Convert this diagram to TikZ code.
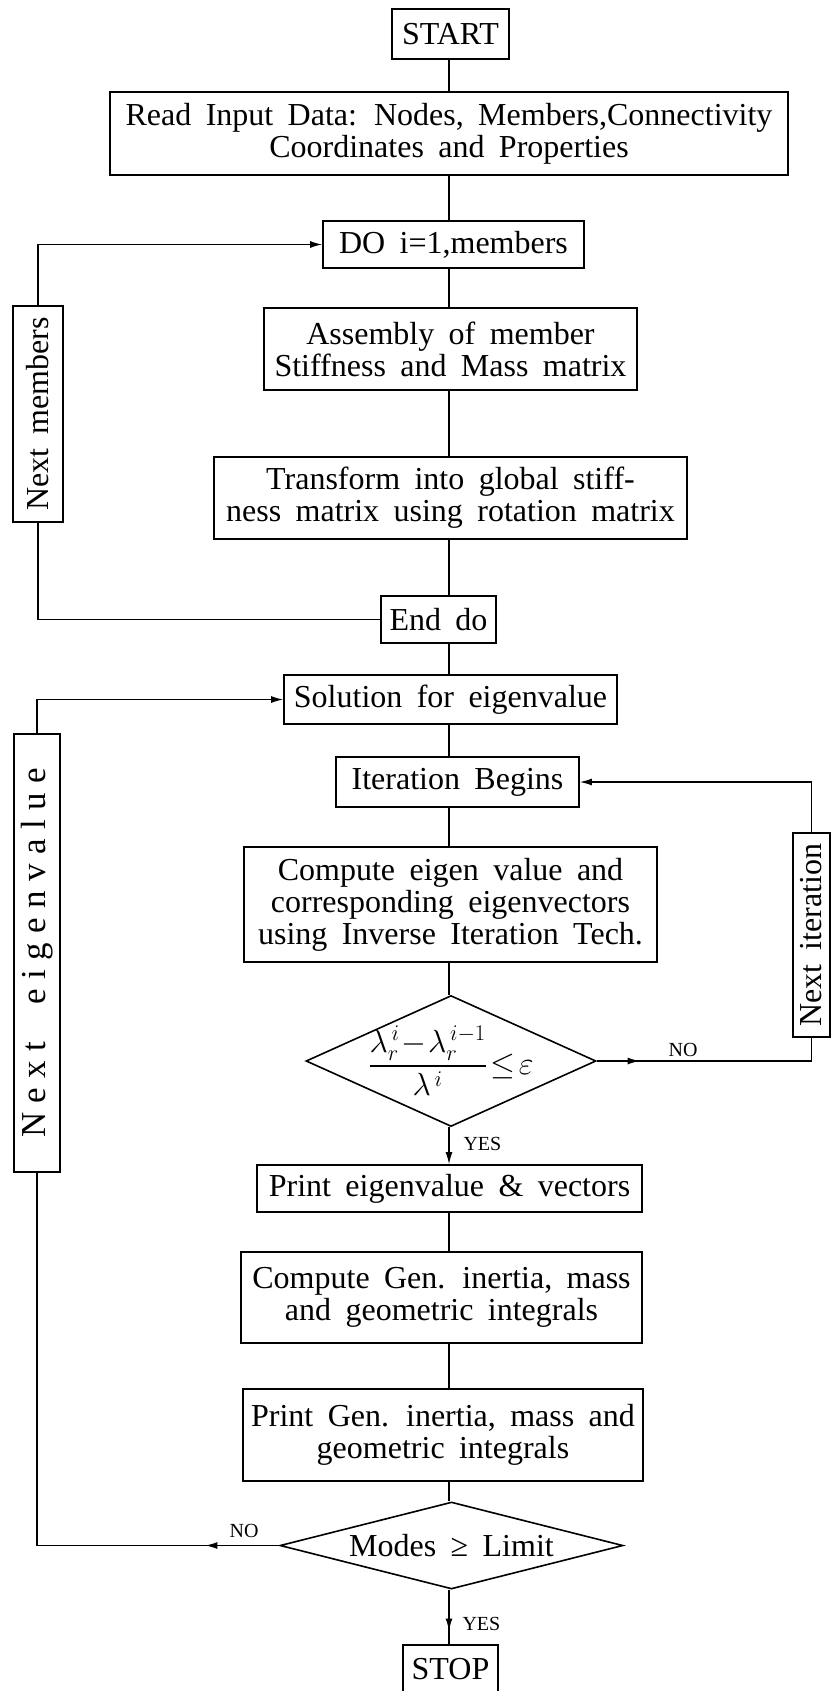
\RequirePackage{fix-cm}
\documentclass[tikz,border=0pt]{standalone}
\usepackage{amsmath, amssymb}
\usepackage{graphicx}
\usepackage{fontspec}
\setmainfont[WordSpace=1.8]{Liberation Serif}
\newfontfamily\spreadfont[LetterSpace=27, WordSpace=2]{Liberation Serif}
\usepackage{tikz}
\usetikzlibrary{shapes.geometric, arrows.meta, decorations.markings}

\tikzset{
  blk/.style={draw, line width=1.8pt, inner sep=0pt, align=center},
  dec/.style={draw, diamond, line width=1.6pt, inner sep=0pt},
  lnk/.style={line width=1.2pt},
  tag/.style={font=\fontsize{20}{20}\selectfont},
  marrow/.style={postaction={decorate}, decoration={markings, mark=at position #1 with {\arrow{>}}}}
}

\begin{document}
\begin{tikzpicture}[x=1pt, y=-1pt, >={Latex[length=12pt, width=7pt]}, every node/.style={font=\fontsize{32}{32}\selectfont}]
\useasboundingbox (0,0) rectangle (832,1691);
\coordinate (axis) at (449,0);

\node[blk, minimum width=117, minimum height=50] (start) at (450.5,34) {START};
\node[blk, minimum width=678, minimum height=83] (read) at (449,133.5) {Read Input Data: Nodes, Members,Connectivity\\Coordinates and Properties};
\node[blk, minimum width=261, minimum height=47] (do) at (453.5,244.5) {DO i=1,members};
\node[blk, minimum width=373, minimum height=82] (asm) at (450.5,349) {Assembly of member\\Stiffness and Mass matrix};
\node[blk, minimum width=473, minimum height=82] (trans) at (450.5,498) {Transform into global stiff-\\ness matrix using rotation matrix};
\node[blk, minimum width=115, minimum height=47] (enddo) at (438.5,619.5) {End do};
\node[blk, minimum width=333, minimum height=49] (sol) at (450.5,699.5) {Solution for eigenvalue};
\node[blk, minimum width=243, minimum height=50] (iter) at (457.5,782) {Iteration Begins};
\node[blk, minimum width=413, minimum height=115] (comp) at (450.5,904.5) {Compute eigen value and\\corresponding eigenvectors\\using Inverse Iteration Tech.};
\node[dec, minimum width=290, minimum height=131,
  label={center:$\dfrac{\lambda_r^{\,i}\!-\!\lambda_r^{\,i-1}}{\lambda^{\,i}}\!\leq\!\varepsilon$}] (check) at (451,1061) {};
\node[blk, minimum width=385, minimum height=47] (printeig) at (449.5,1188.5) {Print eigenvalue \& vectors};
\node[blk, minimum width=401, minimum height=91] (compgen) at (441.5,1297.5) {Compute Gen. inertia, mass\\and geometric integrals};
\node[blk, minimum width=400, minimum height=92] (printgen) at (443,1435) {Print Gen. inertia, mass and\\geometric integrals};
\node[dec, minimum width=343, minimum height=87, label={center:Modes ≥ Limit}] (modes) at (451.5,1545.5) {};
\node[blk, minimum width=95, minimum height=48] (stop) at (450.5,1669) {STOP};

\node[blk, minimum width=50, minimum height=216] (nextmem) at (38,414) {\rotatebox{90}{Next members}};
\node[blk, minimum width=46, minimum height=438] (nexteig) at (37,953) {\rotatebox{90}{\fontsize{35}{35}\spreadfont Next eigenvalue}};
\node[blk, minimum width=37, minimum height=204] (nextiter) at (811.5,935) {\rotatebox{90}{Next iteration}};

\draw[lnk] (axis |- start.south) -- (axis |- read.north);
\draw[lnk] (axis |- read.south) -- (axis |- do.north);
\draw[lnk] (axis |- do.south) -- (axis |- asm.north);
\draw[lnk] (axis |- asm.south) -- (axis |- trans.north);
\draw[lnk] (axis |- trans.south) -- (axis |- enddo.north);
\draw[lnk] (axis |- enddo.south) -- (axis |- sol.north);
\draw[lnk] (axis |- sol.south) -- (axis |- iter.north);
\draw[lnk] (axis |- iter.south) -- (axis |- comp.north);
\draw[lnk] (axis |- comp.south) -- (axis |- check.north);
\draw[lnk, ->] (axis |- check.south) -- (axis |- printeig.north);
\draw[lnk] (axis |- printeig.south) -- (axis |- compgen.north);
\draw[lnk] (axis |- compgen.south) -- (axis |- printgen.north);
\draw[lnk] (axis |- printgen.south) -- (axis |- modes.north);
\draw[lnk, marrow=0.75] (axis |- modes.south) -- (axis |- stop.north);

\draw[lnk] (enddo.west) -| (nextmem.south);
\draw[lnk, ->] (nextmem.north) |- (do.west);
\draw[lnk, marrow=0.18] (check.east) -| (nextiter.south);
\draw[lnk, ->] (nextiter.north) |- (iter.east);
\draw[lnk, marrow=0.12] (modes.west) -| (nexteig.south);
\draw[lnk, ->] (nexteig.north) |- (sol.west);

\node[tag] (no1) at (683,1050) {NO};
\node[tag, anchor=west] (yes1) at (460,1144) {YES};
\node[tag] (no2) at (244,1531) {NO};
\node[tag, anchor=west] (yes2) at (459,1624) {YES};
\end{tikzpicture}
\end{document}
